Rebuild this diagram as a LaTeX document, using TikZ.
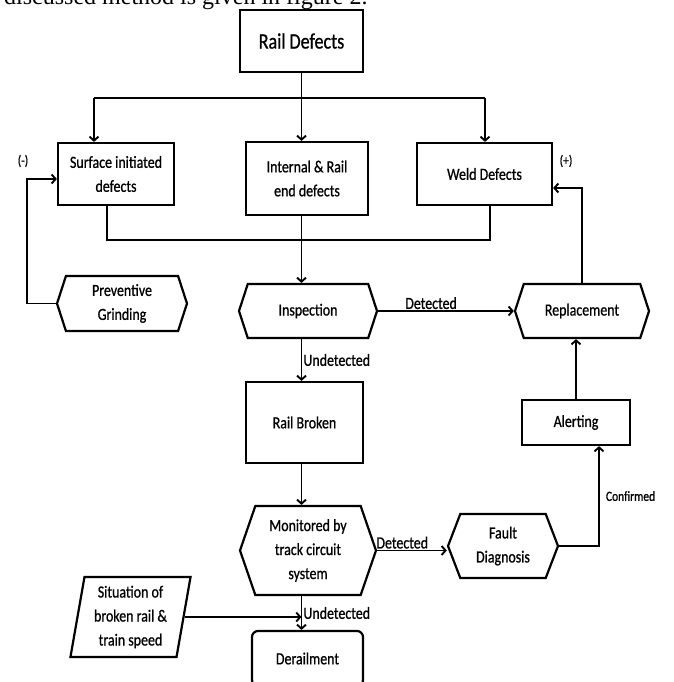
\documentclass[tikz,border=0pt]{standalone}
\usepackage{fontspec}
\setmainfont{Carlito}[FakeStretch=0.82, FakeBold=0.8]
\newfontfamily\paperfont{Liberation Serif}
\usetikzlibrary{shapes.symbols,shapes.geometric,arrows.meta}
\tikzset{conn/.style={line width=1.9pt}, >={Straight Barb[length=4pt,width=9pt]},
  block/.style={draw, line width=2.2pt, align=center, inner sep=2pt, font=\fontsize{17}{24}\selectfont},
  boxed/.style={block, rectangle},
  hexa/.style={block, signal, signal to=west and east, signal pointer angle=144},
  slanted/.style={block, trapezium, trapezium left angle=80, trapezium right angle=100, trapezium stretches=true},
  endbox/.style={block, rectangle, rounded corners=6pt},
  lbl/.style={font=\fontsize{17}{20}\selectfont, inner sep=1pt}}

\begin{document}
\begin{tikzpicture}[x=1pt,y=-1pt]
  \useasboundingbox (0,0) rectangle (673,682);
  \node[anchor=base west, inner sep=0, font=\paperfont\fontsize{24}{28}\selectfont] (caption) at (4,5) {discussed method is given in figure 2.};

  \node[boxed, minimum width=123, minimum height=62, font=\fontsize{22}{26}\selectfont] (rail) at (301.5,41) {Rail Defects};
  \node[boxed, minimum width=116, minimum height=62] (surf) at (116,174) {Surface initiated\\defects};
  \node[boxed, minimum width=122, minimum height=73] (intl) at (307,178.5) {Internal \& Rail\\end defects};
  \node[boxed, minimum width=135, minimum height=62] (weld) at (484.5,174) {Weld Defects};
  \node[hexa, minimum width=130, minimum height=55] (prev) at (122,303.5) {Preventive\\Grinding};
  \node[hexa, minimum width=138, minimum height=54] (insp) at (308,311) {Inspection};
  \node[hexa, minimum width=134, minimum height=54] (repl) at (582,311) {Replacement};
  \node[boxed, minimum width=117, minimum height=81] (railb) at (304.5,422.5) {Rail Broken};
  \node[boxed, minimum width=108, minimum height=45] (alert) at (576,422.5) {Alerting};
  \node[hexa, signal pointer angle=142, minimum width=136, minimum height=89] (mon) at (308,550.5) {Monitored by\\track circuit\\system};
  \node[hexa, signal pointer angle=138, minimum width=110, minimum height=64] (fault) at (503,546) {Fault\\Diagnosis};
  \node[slanted, minimum width=121, minimum height=80] (sit) at (130.5,617) {Situation of\\broken rail \&\\train speed};
  \node[endbox, minimum width=111, minimum height=55] (derail) at (307.5,658.5) {Derailment};

  \coordinate (bl) at (94,98);
  \coordinate (br) at (485,98);
  \coordinate (cl) at (107,240);
  \coordinate (cr) at (490,240);

  \draw[conn] (bl) -- (br);
  \draw[conn,->] (rail.south) -- (intl.north -| rail.south);
  \draw[conn,->] (bl) -- (bl |- surf.north);
  \draw[conn,->] (br) -- (br |- weld.north);
  \draw[conn] (cl |- surf.south) -- (cl) -- (cr) -- (cr |- weld.south);
  \draw[conn,->] (intl.south -| rail.south) -- (insp.north -| rail.south);
  \draw[conn,->] (prev.west) -- ++(-29,0) |- ([yshift=-5pt]surf.west);
  \draw[conn,->] (insp.east) -- (repl.west) node[lbl, pos=0.39, above] {Detected};
  \draw[conn,->] (repl.north) |- ([yshift=-14pt]weld.east);
  \draw[conn,->] (insp.south -| rail.south) -- (railb.north -| rail.south) node[lbl, midway, right] {Undetected};
  \draw[conn,->] (alert.north) -- (alert.north |- repl.south);
  \draw[conn,->] (railb.south -| rail.south) -- (mon.north -| rail.south);
  \draw[conn,->] (mon.east) -- (mon.east -| fault.west) node[lbl, pos=0.36, above] {Detected};
  \draw[conn,->] (fault.east) -| ([xshift=23pt]alert.south) node[lbl, pos=0.75, right, xshift=5pt, font=\fontsize{14}{16}\selectfont] {Confirmed};
  \draw[conn,->] (mon.south -| rail.south) -- (derail.north -| rail.south) node[lbl, midway, right] {Undetected};
  \draw[conn,->] (sit.east) -- (sit.east -| rail.south);

  \node[lbl, font=\fontsize{14}{16}\selectfont] (minus) at (23,161) {(-)};
  \node[lbl, font=\fontsize{14}{16}\selectfont] (plus) at (566,161) {(+)};
\end{tikzpicture}
\end{document}
